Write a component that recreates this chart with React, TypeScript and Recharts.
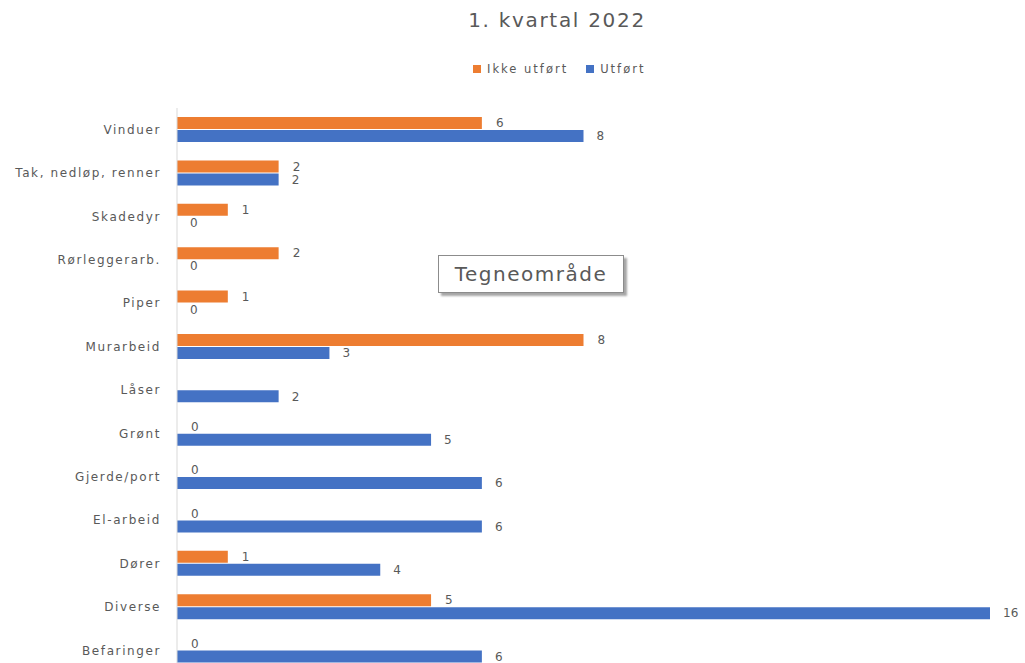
import { BarChart, Bar, XAxis, YAxis, LabelList } from "recharts";

const categories = [
  "Vinduer",
  "Tak, nedløp, renner",
  "Skadedyr",
  "Rørleggerarb.",
  "Piper",
  "Murarbeid",
  "Låser",
  "Grønt",
  "Gjerde/port",
  "El-arbeid",
  "Dører",
  "Diverse",
  "Befaringer",
];

const ikkeUtfort: (number | null)[] = [6, 2, 1, 2, 1, 8, null, 0, 0, 0, 1, 5, 0];
const utfort: number[] = [8, 2, 0, 0, 0, 3, 2, 5, 6, 6, 4, 16, 6];

const ORANGE = "#ED7D31";
const BLUE = "#4472C4";
const TEXT = "#595959";
const FONT = "'DejaVu Sans', 'Liberation Sans', sans-serif";

const data = categories.map((name, i) => ({
  name,
  ikke: ikkeUtfort[i],
  utfort: utfort[i],
}));

// zero values still get a hairline bar so their "0" label is drawn
const zeroSize = (value: number | null) => (value === 0 ? 0.01 : 0);

function LegendItem({ color, label }: { color: string; label: string }) {
  return (
    <span style={{ display: "inline-flex", alignItems: "center", marginRight: 18 }}>
      <span style={{ width: 8, height: 8, background: color, display: "inline-block", marginRight: 6 }} />
      {label}
    </span>
  );
}

export default function App() {
  return (
    <div
      style={{
        position: "fixed",
        left: 0,
        top: 0,
        width: 1025,
        height: 663,
        overflow: "hidden",
        background: "#fff",
      }}
    >
      <div
        style={{
          position: "absolute",
          top: 8,
          left: 557,
          transform: "translateX(-50%)",
          fontFamily: FONT,
          fontSize: 20,
          letterSpacing: 1.7,
          color: TEXT,
          whiteSpace: "nowrap",
        }}
      >
        1. kvartal 2022
      </div>

      <div
        style={{
          position: "absolute",
          top: 62,
          left: 473,
          fontFamily: FONT,
          fontSize: 11.5,
          letterSpacing: 2,
          color: TEXT,
          whiteSpace: "nowrap",
        }}
      >
        <LegendItem color={ORANGE} label="Ikke utført" />
        <LegendItem color={BLUE} label="Utført" />
      </div>

      <BarChart
        layout="vertical"
        width={1025}
        height={680}
        data={data}
        margin={{ top: 108, right: 35, bottom: 8, left: 0 }}
        barSize={12}
        barGap={1}
      >
        <XAxis type="number" domain={[0, 16]} hide />
        <YAxis
          type="category"
          dataKey="name"
          width={177}
          tickLine={false}
          tickSize={0}
          tickMargin={16}
          axisLine={{ stroke: "#d9d9d9" }}
          tick={{ fontSize: 12, fill: TEXT, fontFamily: FONT, letterSpacing: 1.6 }}
          interval={0}
        />
        <Bar
          dataKey="ikke"
          name="Ikke utført"
          fill={ORANGE}
          minPointSize={zeroSize}
          isAnimationActive={false}
        >
          <LabelList dataKey="ikke" position="right" offset={14} fill={TEXT} fontSize={12} fontFamily={FONT} />
        </Bar>
        <Bar
          dataKey="utfort"
          name="Utført"
          fill={BLUE}
          minPointSize={zeroSize}
          isAnimationActive={false}
        >
          <LabelList dataKey="utfort" position="right" offset={13} fill={TEXT} fontSize={12} fontFamily={FONT} />
        </Bar>
      </BarChart>

      <div
        style={{
          position: "absolute",
          left: 438,
          top: 255,
          width: 186,
          height: 38,
          boxSizing: "border-box",
          border: "1px solid #8c8c8c",
          background: "#fff",
          boxShadow: "3px 3px 2px rgba(0,0,0,0.35)",
          fontFamily: FONT,
          fontSize: 20,
          letterSpacing: 1.5,
          color: TEXT,
          display: "flex",
          alignItems: "center",
          justifyContent: "center",
        }}
      >
        Tegneområde
      </div>
    </div>
  );
}
